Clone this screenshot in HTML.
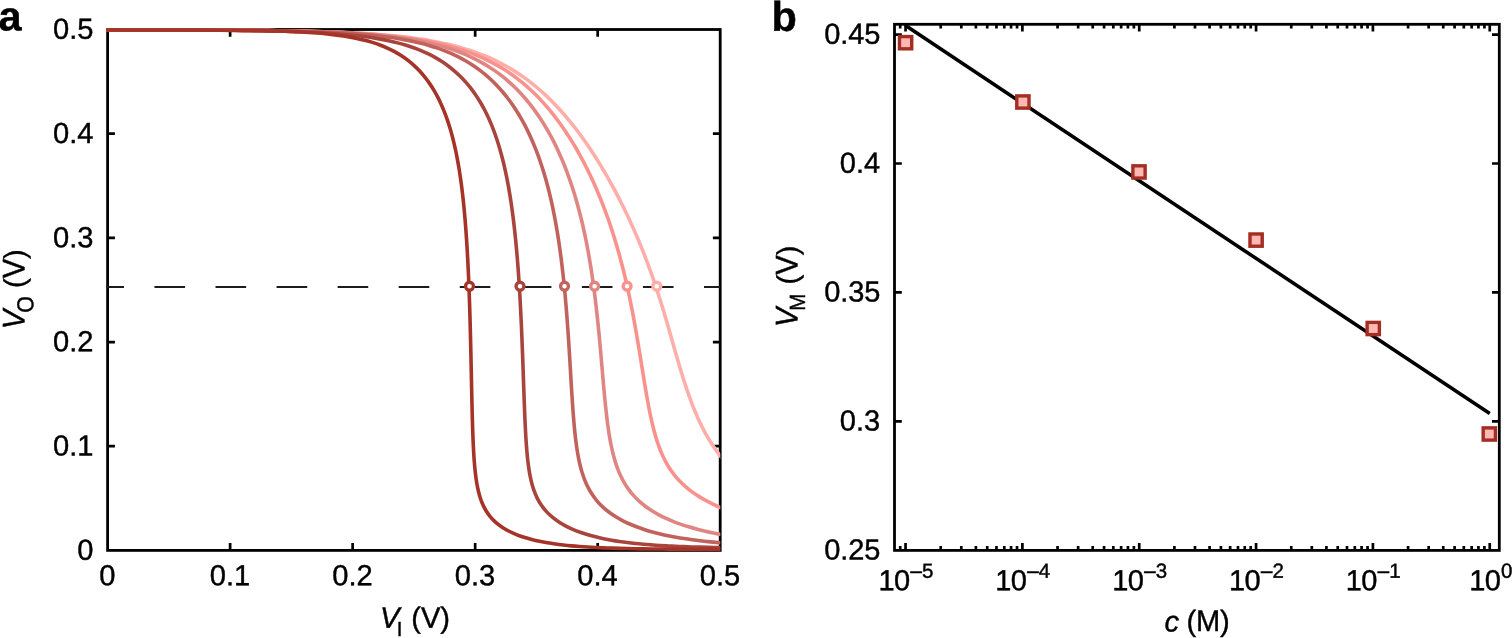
<!DOCTYPE html>
<html lang="en"><head><meta charset="utf-8"><title>Figure</title>
<style>html,body{margin:0;padding:0;background:#fff}svg{display:block}text{font-family:"Liberation Sans",sans-serif;fill:#000;stroke:#000;stroke-width:.42px}</style></head><body>
<svg width="1512" height="638" viewBox="0 0 1512 638">
<rect width="1512" height="638" fill="#fff"/>
<defs><clipPath id="ca"><rect x="106.20" y="27.30" width="614.10" height="525.10"/></clipPath></defs>
<g id="plot-a">
<rect x="107.60" y="29.50" width="612.60" height="520.90" fill="none" stroke="#000" stroke-width="2.80"/>
<path d="M230.12 550.40v-7.30M230.12 29.50v7.30M107.60 446.22h7.30M720.20 446.22h-7.30M352.64 550.40v-7.30M352.64 29.50v7.30M107.60 342.04h7.30M720.20 342.04h-7.30M475.16 550.40v-7.30M475.16 29.50v7.30M107.60 237.86h7.30M720.20 237.86h-7.30M597.68 550.40v-7.30M597.68 29.50v7.30M107.60 133.68h7.30M720.20 133.68h-7.30" stroke="#000" stroke-width="2.70" fill="none"/>
<line x1="93.4" y1="287.00" x2="720.20" y2="287.00" stroke="#1c1c1c" stroke-width="1.9" stroke-dasharray="30.6 30.46" clip-path="url(#ca)"/>
<g clip-path="url(#ca)" fill="none" stroke-width="3.6" stroke-linejoin="round">
<path d="M100.06 29.94 C102.75 29.94 105.44 29.95 108.13 29.95 C110.82 29.95 113.51 29.95 116.20 29.96 C118.88 29.96 121.57 29.96 124.26 29.96 C126.95 29.97 129.64 29.97 132.33 29.97 C135.02 29.98 137.71 29.98 140.39 29.98 C143.08 29.99 145.77 29.99 148.46 30.00 C151.15 30.00 153.84 30.01 156.53 30.01 C159.22 30.02 161.90 30.02 164.59 30.03 C167.28 30.03 169.97 30.04 172.66 30.04 C175.35 30.05 178.04 30.06 180.73 30.07 C183.41 30.07 186.10 30.08 188.79 30.09 C191.48 30.10 194.17 30.11 196.86 30.12 C199.55 30.13 202.24 30.14 204.92 30.15 C207.61 30.16 210.30 30.17 212.99 30.18 C215.68 30.20 218.37 30.21 221.06 30.23 C223.75 30.24 226.43 30.26 229.12 30.27 C231.81 30.29 234.50 30.31 237.19 30.33 C239.88 30.35 242.57 30.37 245.25 30.39 C247.94 30.41 250.63 30.44 253.32 30.46 C256.01 30.49 258.70 30.51 261.39 30.54 C264.08 30.57 266.76 30.60 269.45 30.64 C272.14 30.67 274.83 30.70 277.52 30.74 C280.21 30.78 282.89 30.82 285.58 30.86 C288.27 30.91 290.96 30.95 293.65 31.00 C296.34 31.05 299.02 31.11 301.71 31.16 C304.40 31.22 307.09 31.28 309.78 31.35 C312.46 31.41 315.15 31.48 317.84 31.56 C320.53 31.63 323.22 31.71 325.90 31.80 C328.59 31.88 331.28 31.97 333.96 32.07 C336.65 32.17 339.34 32.27 342.02 32.38 C344.71 32.50 347.40 32.62 350.08 32.74 C352.77 32.87 355.45 33.01 358.14 33.15 C360.82 33.30 363.51 33.45 366.19 33.62 C368.87 33.79 371.56 33.96 374.24 34.16 C376.92 34.35 379.60 34.55 382.28 34.77 C384.96 34.98 387.64 35.21 390.32 35.46 C393.00 35.71 395.67 35.97 398.35 36.25 C401.02 36.54 403.69 36.83 406.36 37.16 C409.03 37.48 411.70 37.82 414.36 38.18 C417.03 38.55 419.69 38.93 422.34 39.35 C425.00 39.76 427.65 40.20 430.30 40.66 C432.95 41.13 435.59 41.63 438.23 42.16 C440.86 42.69 443.50 43.24 446.12 43.84 C448.74 44.44 451.35 45.07 453.96 45.74 C456.56 46.41 459.16 47.11 461.74 47.86 C464.32 48.61 466.89 49.40 469.45 50.23 C472.00 51.06 474.55 51.94 477.07 52.86 C479.60 53.79 482.11 54.76 484.59 55.78 C487.08 56.80 489.55 57.86 492.00 58.98 C494.44 60.10 496.87 61.26 499.26 62.48 C501.66 63.69 504.03 64.96 506.38 66.28 C508.72 67.59 511.04 68.96 513.33 70.37 C515.62 71.78 517.88 73.24 520.10 74.75 C522.33 76.25 524.52 77.81 526.69 79.41 C528.85 81.00 530.98 82.64 533.08 84.33 C535.18 86.01 537.24 87.73 539.27 89.49 C541.31 91.25 543.30 93.05 545.27 94.88 C547.24 96.72 549.17 98.59 551.08 100.48 C552.98 102.38 554.85 104.32 556.69 106.27 C558.53 108.23 560.34 110.22 562.12 112.24 C563.91 114.25 565.66 116.29 567.38 118.35 C569.11 120.42 570.80 122.50 572.47 124.61 C574.14 126.72 575.79 128.84 577.41 130.99 C579.03 133.14 580.62 135.30 582.19 137.49 C583.76 139.67 585.31 141.87 586.83 144.08 C588.35 146.30 589.86 148.53 591.34 150.77 C592.82 153.02 594.28 155.28 595.72 157.55 C597.16 159.82 598.57 162.10 599.98 164.40 C601.38 166.69 602.76 169.00 604.12 171.32 C605.48 173.64 606.82 175.96 608.15 178.30 C609.48 180.64 610.78 182.99 612.07 185.35 C613.36 187.71 614.64 190.08 615.89 192.45 C617.15 194.83 618.39 197.22 619.61 199.61 C620.84 202.01 622.04 204.41 623.23 206.82 C624.42 209.23 625.59 211.65 626.75 214.08 C627.91 216.51 629.05 218.94 630.17 221.38 C631.30 223.83 632.41 226.28 633.50 228.73 C634.59 231.19 635.66 233.65 636.72 236.13 C637.78 238.60 638.82 241.08 639.85 243.56 C640.88 246.05 641.89 248.54 642.88 251.04 C643.88 253.53 644.85 256.04 645.82 258.55 C646.78 261.06 647.72 263.58 648.65 266.10 C649.58 268.62 650.50 271.15 651.40 273.69 C652.29 276.22 653.18 278.76 654.05 281.30 C654.92 283.85 655.77 286.40 656.61 288.95 C657.46 291.50 658.28 294.06 659.10 296.63 C659.91 299.19 660.72 301.75 661.51 304.32 C662.30 306.89 663.08 309.46 663.86 312.04 C664.63 314.62 665.39 317.19 666.15 319.77 C666.90 322.35 667.65 324.94 668.40 327.52 C669.14 330.10 669.88 332.69 670.62 335.27 C671.36 337.86 672.09 340.45 672.83 343.03 C673.56 345.62 674.30 348.21 675.04 350.79 C675.78 353.37 676.52 355.96 677.27 358.54 C678.02 361.12 678.77 363.70 679.54 366.28 C680.31 368.86 681.08 371.43 681.88 374.00 C682.67 376.57 683.47 379.14 684.29 381.70 C685.12 384.26 685.96 386.81 686.82 389.36 C687.68 391.90 688.57 394.44 689.48 396.97 C690.39 399.50 691.33 402.02 692.30 404.53 C693.27 407.04 694.27 409.53 695.31 412.01 C696.35 414.49 697.42 416.96 698.53 419.41 C699.65 421.85 700.80 424.28 702.01 426.69 C703.21 429.09 704.46 431.47 705.76 433.83 C707.06 436.18 708.40 438.51 709.81 440.80 C711.21 443.09 712.67 445.36 714.19 447.58 C715.70 449.79 717.27 451.98 718.91 454.11 C720.54 456.25 722.29 458.29 723.98 460.38 C723.98 460.38 723.98 460.38 723.98 460.38" stroke="#FFAEAA"/>
<path d="M100.03 29.94 C102.71 29.94 105.40 29.94 108.09 29.95 C110.77 29.95 113.46 29.95 116.14 29.95 C118.83 29.96 121.51 29.96 124.20 29.96 C126.89 29.97 129.57 29.97 132.26 29.97 C134.94 29.97 137.63 29.98 140.31 29.98 C143.00 29.99 145.69 29.99 148.37 29.99 C151.06 30.00 153.74 30.00 156.43 30.01 C159.11 30.01 161.80 30.02 164.49 30.02 C167.17 30.03 169.86 30.04 172.54 30.04 C175.23 30.05 177.91 30.06 180.60 30.06 C183.28 30.07 185.97 30.08 188.66 30.09 C191.34 30.10 194.03 30.11 196.71 30.12 C199.40 30.13 202.08 30.14 204.77 30.15 C207.46 30.16 210.14 30.17 212.83 30.19 C215.51 30.20 218.20 30.21 220.88 30.23 C223.57 30.24 226.26 30.26 228.94 30.28 C231.63 30.29 234.31 30.31 237.00 30.33 C239.68 30.35 242.37 30.37 245.05 30.40 C247.74 30.42 250.43 30.44 253.11 30.47 C255.80 30.50 258.48 30.52 261.17 30.55 C263.85 30.58 266.54 30.62 269.22 30.65 C271.91 30.69 274.60 30.72 277.28 30.76 C279.97 30.80 282.65 30.84 285.34 30.89 C288.02 30.94 290.71 30.98 293.39 31.04 C296.08 31.09 298.76 31.15 301.45 31.21 C304.13 31.27 306.82 31.33 309.50 31.40 C312.19 31.47 314.87 31.54 317.56 31.62 C320.24 31.70 322.93 31.78 325.61 31.88 C328.29 31.97 330.98 32.06 333.66 32.17 C336.34 32.27 339.03 32.38 341.71 32.50 C344.39 32.62 347.08 32.75 349.76 32.89 C352.44 33.02 355.12 33.17 357.80 33.33 C360.48 33.48 363.17 33.65 365.85 33.83 C368.52 34.01 371.20 34.20 373.88 34.41 C376.56 34.62 379.24 34.83 381.91 35.07 C384.59 35.31 387.26 35.56 389.93 35.83 C392.60 36.10 395.28 36.38 397.94 36.69 C400.61 37.00 403.28 37.32 405.94 37.68 C408.60 38.03 411.26 38.40 413.92 38.80 C416.57 39.20 419.23 39.62 421.87 40.08 C424.52 40.53 427.16 41.01 429.80 41.53 C432.43 42.05 435.06 42.59 437.68 43.18 C440.30 43.76 442.92 44.38 445.52 45.04 C448.13 45.70 450.72 46.39 453.30 47.13 C455.88 47.88 458.45 48.66 461.01 49.49 C463.56 50.32 466.10 51.19 468.62 52.11 C471.15 53.04 473.65 54.01 476.13 55.03 C478.62 56.06 481.08 57.13 483.52 58.26 C485.95 59.38 488.37 60.56 490.75 61.80 C493.14 63.03 495.50 64.31 497.83 65.65 C500.15 66.99 502.45 68.38 504.72 69.83 C506.98 71.27 509.21 72.77 511.41 74.31 C513.61 75.86 515.77 77.45 517.89 79.10 C520.02 80.74 522.10 82.43 524.15 84.17 C526.20 85.90 528.22 87.68 530.19 89.50 C532.17 91.32 534.10 93.18 536.00 95.08 C537.90 96.98 539.76 98.92 541.59 100.89 C543.41 102.85 545.20 104.86 546.95 106.90 C548.70 108.93 550.42 111.00 552.10 113.09 C553.78 115.19 555.43 117.31 557.04 119.46 C558.65 121.60 560.23 123.78 561.78 125.97 C563.33 128.17 564.84 130.39 566.33 132.63 C567.81 134.86 569.26 137.12 570.69 139.40 C572.11 141.68 573.50 143.97 574.87 146.29 C576.24 148.60 577.57 150.93 578.88 153.27 C580.19 155.62 581.47 157.98 582.73 160.35 C583.99 162.72 585.22 165.11 586.42 167.51 C587.63 169.91 588.81 172.32 589.96 174.75 C591.12 177.17 592.25 179.61 593.36 182.06 C594.47 184.50 595.55 186.96 596.61 189.43 C597.67 191.89 598.71 194.37 599.73 196.86 C600.74 199.34 601.74 201.84 602.71 204.34 C603.68 206.84 604.63 209.36 605.56 211.88 C606.49 214.40 607.40 216.92 608.29 219.46 C609.18 221.99 610.05 224.53 610.89 227.08 C611.74 229.63 612.57 232.18 613.38 234.75 C614.19 237.31 614.98 239.87 615.75 242.45 C616.52 245.02 617.28 247.60 618.01 250.18 C618.75 252.76 619.47 255.35 620.17 257.94 C620.87 260.54 621.55 263.13 622.22 265.73 C622.89 268.34 623.54 270.94 624.17 273.55 C624.81 276.16 625.43 278.77 626.03 281.39 C626.64 284.01 627.23 286.63 627.81 289.25 C628.38 291.87 628.95 294.50 629.50 297.13 C630.05 299.76 630.59 302.39 631.11 305.02 C631.64 307.65 632.15 310.29 632.66 312.93 C633.16 315.57 633.66 318.21 634.14 320.85 C634.63 323.49 635.10 326.13 635.57 328.78 C636.04 331.42 636.50 334.07 636.95 336.71 C637.41 339.36 637.85 342.01 638.29 344.66 C638.74 347.31 639.17 349.96 639.61 352.61 C640.04 355.26 640.47 357.91 640.90 360.56 C641.33 363.21 641.75 365.86 642.18 368.51 C642.61 371.17 643.03 373.82 643.47 376.47 C643.90 379.12 644.33 381.77 644.77 384.42 C645.21 387.07 645.66 389.72 646.12 392.36 C646.57 395.01 647.04 397.66 647.52 400.30 C648.00 402.94 648.49 405.58 649.00 408.22 C649.52 410.85 650.04 413.49 650.61 416.11 C651.17 418.74 651.74 421.36 652.37 423.97 C652.99 426.59 653.63 429.19 654.34 431.79 C655.04 434.38 655.78 436.96 656.58 439.52 C657.39 442.08 658.24 444.64 659.17 447.15 C660.11 449.67 661.10 452.17 662.20 454.62 C663.29 457.07 664.46 459.49 665.74 461.85 C667.02 464.21 668.39 466.53 669.86 468.77 C671.34 471.01 672.92 473.19 674.60 475.29 C676.28 477.38 678.07 479.40 679.93 481.32 C681.80 483.25 683.77 485.09 685.80 486.84 C687.82 488.60 689.94 490.26 692.11 491.85 C694.27 493.44 696.50 494.94 698.77 496.37 C701.04 497.81 703.37 499.16 705.72 500.45 C708.07 501.75 710.46 502.97 712.88 504.15 C715.29 505.32 717.75 506.41 720.20 507.50 C721.43 508.05 722.68 508.54 723.92 509.06" stroke="#F9918C"/>
<path d="M100.01 29.94 C102.69 29.94 105.37 29.94 108.06 29.94 C110.74 29.94 113.42 29.95 116.10 29.95 C118.79 29.95 121.47 29.95 124.15 29.96 C126.83 29.96 129.52 29.96 132.20 29.96 C134.88 29.97 137.56 29.97 140.24 29.97 C142.93 29.98 145.61 29.98 148.29 29.99 C150.97 29.99 153.66 29.99 156.34 30.00 C159.02 30.00 161.70 30.01 164.39 30.01 C167.07 30.02 169.75 30.03 172.43 30.03 C175.12 30.04 177.80 30.05 180.48 30.05 C183.16 30.06 185.85 30.07 188.53 30.08 C191.21 30.08 193.89 30.09 196.57 30.10 C199.26 30.11 201.94 30.12 204.62 30.14 C207.30 30.15 209.99 30.16 212.67 30.17 C215.35 30.19 218.03 30.20 220.72 30.21 C223.40 30.23 226.08 30.25 228.76 30.26 C231.45 30.28 234.13 30.30 236.81 30.32 C239.49 30.34 242.17 30.36 244.86 30.39 C247.54 30.41 250.22 30.43 252.90 30.46 C255.59 30.49 258.27 30.52 260.95 30.55 C263.63 30.58 266.32 30.61 269.00 30.65 C271.68 30.69 274.36 30.72 277.04 30.77 C279.73 30.81 282.41 30.85 285.09 30.90 C287.77 30.95 290.45 31.00 293.14 31.06 C295.82 31.11 298.50 31.17 301.18 31.23 C303.86 31.30 306.54 31.37 309.23 31.44 C311.91 31.52 314.59 31.59 317.27 31.68 C319.95 31.77 322.63 31.86 325.31 31.96 C327.99 32.06 330.67 32.16 333.35 32.28 C336.03 32.39 338.71 32.51 341.39 32.64 C344.07 32.78 346.75 32.92 349.43 33.07 C352.10 33.22 354.78 33.38 357.46 33.56 C360.14 33.73 362.81 33.92 365.49 34.12 C368.16 34.32 370.84 34.54 373.51 34.77 C376.18 35.00 378.85 35.25 381.52 35.52 C384.19 35.78 386.86 36.07 389.52 36.38 C392.19 36.68 394.85 37.01 397.51 37.36 C400.17 37.72 402.82 38.09 405.47 38.49 C408.13 38.90 410.77 39.33 413.42 39.79 C416.06 40.26 418.70 40.75 421.33 41.28 C423.95 41.80 426.58 42.36 429.19 42.97 C431.81 43.57 434.41 44.21 437.01 44.89 C439.60 45.57 442.18 46.30 444.75 47.07 C447.32 47.84 449.88 48.66 452.41 49.53 C454.95 50.40 457.47 51.32 459.97 52.29 C462.47 53.27 464.95 54.29 467.40 55.37 C469.86 56.46 472.29 57.60 474.69 58.79 C477.09 59.99 479.46 61.25 481.80 62.56 C484.13 63.88 486.44 65.25 488.71 66.68 C490.98 68.11 493.21 69.60 495.40 71.15 C497.59 72.69 499.75 74.29 501.86 75.95 C503.97 77.61 506.04 79.32 508.06 81.08 C510.08 82.84 512.06 84.65 513.99 86.51 C515.93 88.37 517.81 90.28 519.66 92.23 C521.50 94.17 523.30 96.17 525.05 98.20 C526.80 100.23 528.50 102.31 530.16 104.41 C531.83 106.51 533.44 108.66 535.02 110.83 C536.59 113.00 538.12 115.21 539.61 117.44 C541.09 119.67 542.54 121.93 543.94 124.22 C545.35 126.50 546.71 128.81 548.04 131.14 C549.37 133.47 550.65 135.83 551.90 138.20 C553.15 140.58 554.36 142.97 555.54 145.38 C556.72 147.79 557.86 150.22 558.97 152.66 C560.08 155.10 561.15 157.56 562.19 160.03 C563.23 162.50 564.24 164.99 565.22 167.49 C566.20 169.98 567.15 172.49 568.07 175.01 C568.99 177.53 569.88 180.06 570.75 182.60 C571.61 185.14 572.45 187.69 573.26 190.25 C574.07 192.80 574.85 195.37 575.61 197.94 C576.37 200.52 577.10 203.10 577.81 205.68 C578.53 208.27 579.21 210.86 579.88 213.46 C580.55 216.06 581.19 218.66 581.81 221.27 C582.44 223.88 583.04 226.49 583.62 229.11 C584.20 231.73 584.77 234.35 585.31 236.98 C585.86 239.61 586.38 242.24 586.89 244.87 C587.40 247.50 587.89 250.14 588.37 252.78 C588.85 255.42 589.30 258.06 589.75 260.71 C590.20 263.35 590.62 266.00 591.04 268.65 C591.46 271.30 591.86 273.95 592.25 276.61 C592.64 279.26 593.01 281.92 593.38 284.58 C593.74 287.23 594.10 289.89 594.44 292.55 C594.78 295.21 595.11 297.88 595.43 300.54 C595.75 303.20 596.06 305.87 596.37 308.53 C596.67 311.20 596.96 313.86 597.25 316.53 C597.53 319.20 597.81 321.86 598.08 324.53 C598.35 327.20 598.62 329.87 598.88 332.54 C599.14 335.21 599.39 337.88 599.64 340.55 C599.88 343.22 600.13 345.89 600.37 348.57 C600.61 351.24 600.84 353.91 601.08 356.58 C601.31 359.25 601.54 361.93 601.77 364.60 C602.00 367.27 602.23 369.94 602.46 372.62 C602.70 375.29 602.93 377.96 603.16 380.63 C603.40 383.31 603.63 385.98 603.88 388.65 C604.12 391.32 604.37 393.99 604.62 396.66 C604.88 399.33 605.14 402.00 605.41 404.67 C605.69 407.34 605.97 410.01 606.27 412.67 C606.58 415.34 606.89 418.00 607.23 420.66 C607.56 423.32 607.92 425.98 608.30 428.64 C608.69 431.29 609.09 433.94 609.54 436.59 C609.99 439.23 610.46 441.87 610.99 444.50 C611.52 447.13 612.09 449.76 612.72 452.36 C613.36 454.97 614.04 457.56 614.80 460.13 C615.57 462.70 616.40 465.26 617.33 467.77 C618.26 470.29 619.26 472.78 620.39 475.21 C621.51 477.65 622.73 480.05 624.07 482.37 C625.41 484.68 626.86 486.95 628.43 489.13 C629.99 491.30 631.68 493.40 633.47 495.40 C635.25 497.39 637.15 499.30 639.13 501.11 C641.11 502.92 643.19 504.62 645.33 506.24 C647.46 507.85 649.69 509.37 651.95 510.80 C654.22 512.23 656.55 513.57 658.91 514.84 C661.27 516.10 663.69 517.28 666.12 518.41 C668.56 519.53 671.03 520.57 673.52 521.56 C676.02 522.55 678.54 523.48 681.07 524.36 C683.60 525.24 686.16 526.06 688.72 526.84 C691.29 527.62 693.87 528.35 696.46 529.04 C699.05 529.74 701.66 530.39 704.27 531.01 C706.88 531.63 709.50 532.21 712.12 532.76 C714.75 533.31 717.38 533.81 720.02 534.32 C721.33 534.57 722.66 534.80 723.97 535.04" stroke="#E08682"/>
<path d="M100.01 29.93 C102.69 29.93 105.37 29.93 108.06 29.93 C110.74 29.93 113.42 29.94 116.11 29.94 C118.79 29.94 121.47 29.94 124.16 29.94 C126.84 29.95 129.52 29.95 132.21 29.95 C134.89 29.96 137.57 29.96 140.25 29.96 C142.94 29.96 145.62 29.97 148.30 29.97 C150.99 29.98 153.67 29.98 156.35 29.98 C159.04 29.99 161.72 29.99 164.40 30.00 C167.09 30.00 169.77 30.01 172.45 30.01 C175.14 30.02 177.82 30.03 180.50 30.03 C183.19 30.04 185.87 30.05 188.55 30.06 C191.24 30.06 193.92 30.07 196.60 30.08 C199.29 30.09 201.97 30.10 204.65 30.11 C207.34 30.12 210.02 30.13 212.70 30.15 C215.39 30.16 218.07 30.17 220.75 30.19 C223.43 30.20 226.12 30.22 228.80 30.24 C231.48 30.25 234.17 30.27 236.85 30.29 C239.53 30.31 242.22 30.34 244.90 30.36 C247.58 30.38 250.27 30.41 252.95 30.44 C255.63 30.46 258.32 30.49 261.00 30.53 C263.68 30.56 266.36 30.59 269.05 30.63 C271.73 30.67 274.41 30.71 277.10 30.75 C279.78 30.80 282.46 30.85 285.14 30.90 C287.83 30.95 290.51 31.00 293.19 31.06 C295.88 31.12 298.56 31.19 301.24 31.26 C303.92 31.33 306.60 31.40 309.29 31.49 C311.97 31.57 314.65 31.65 317.33 31.75 C320.01 31.85 322.69 31.95 325.38 32.06 C328.06 32.17 330.74 32.29 333.42 32.42 C336.10 32.55 338.78 32.69 341.46 32.84 C344.13 32.99 346.81 33.15 349.49 33.33 C352.17 33.50 354.84 33.69 357.52 33.90 C360.20 34.10 362.87 34.32 365.54 34.56 C368.22 34.80 370.89 35.05 373.56 35.33 C376.22 35.61 378.89 35.90 381.55 36.23 C384.22 36.55 386.88 36.89 389.54 37.27 C392.19 37.64 394.85 38.04 397.50 38.47 C400.14 38.90 402.79 39.36 405.42 39.86 C408.06 40.36 410.69 40.90 413.31 41.47 C415.93 42.05 418.55 42.66 421.15 43.32 C423.75 43.98 426.34 44.68 428.91 45.44 C431.48 46.20 434.05 47.00 436.59 47.86 C439.13 48.72 441.65 49.63 444.15 50.61 C446.65 51.58 449.13 52.61 451.58 53.71 C454.03 54.80 456.46 55.96 458.84 57.18 C461.23 58.40 463.59 59.68 465.91 61.04 C468.22 62.39 470.51 63.80 472.74 65.28 C474.98 66.76 477.18 68.31 479.33 69.92 C481.47 71.52 483.58 73.19 485.63 74.92 C487.68 76.65 489.68 78.44 491.63 80.29 C493.58 82.13 495.48 84.03 497.32 85.98 C499.16 87.92 500.96 89.93 502.69 91.97 C504.43 94.01 506.12 96.10 507.75 98.23 C509.38 100.36 510.96 102.53 512.49 104.74 C514.02 106.94 515.50 109.18 516.93 111.45 C518.36 113.72 519.74 116.02 521.07 118.35 C522.41 120.68 523.70 123.03 524.94 125.41 C526.18 127.79 527.38 130.19 528.54 132.61 C529.70 135.03 530.81 137.47 531.89 139.93 C532.96 142.39 534.00 144.87 535.00 147.35 C536.00 149.84 536.96 152.35 537.89 154.87 C538.82 157.38 539.71 159.92 540.57 162.46 C541.43 165.00 542.26 167.55 543.06 170.11 C543.86 172.67 544.62 175.25 545.36 177.82 C546.11 180.40 546.82 182.99 547.50 185.58 C548.19 188.18 548.85 190.78 549.49 193.39 C550.12 195.99 550.73 198.61 551.32 201.22 C551.91 203.84 552.48 206.46 553.03 209.09 C553.57 211.72 554.10 214.35 554.60 216.98 C555.11 219.62 555.59 222.26 556.06 224.90 C556.53 227.54 556.98 230.19 557.42 232.84 C557.85 235.48 558.27 238.13 558.67 240.79 C559.07 243.44 559.46 246.09 559.83 248.75 C560.21 251.41 560.57 254.07 560.91 256.73 C561.26 259.39 561.59 262.05 561.91 264.72 C562.23 267.38 562.54 270.05 562.84 272.71 C563.14 275.38 563.43 278.05 563.71 280.72 C563.98 283.38 564.25 286.05 564.51 288.72 C564.77 291.40 565.02 294.07 565.26 296.74 C565.50 299.41 565.73 302.08 565.96 304.76 C566.19 307.43 566.40 310.11 566.62 312.78 C566.83 315.46 567.03 318.13 567.23 320.81 C567.43 323.48 567.62 326.16 567.81 328.84 C568.00 331.51 568.18 334.19 568.36 336.87 C568.54 339.54 568.72 342.22 568.89 344.90 C569.06 347.58 569.23 350.26 569.39 352.93 C569.56 355.61 569.72 358.29 569.88 360.97 C570.04 363.65 570.20 366.33 570.36 369.00 C570.52 371.68 570.68 374.36 570.83 377.04 C570.99 379.72 571.15 382.40 571.31 385.07 C571.48 387.75 571.64 390.43 571.81 393.11 C571.98 395.79 572.15 398.47 572.33 401.14 C572.50 403.82 572.69 406.50 572.88 409.17 C573.07 411.85 573.27 414.53 573.49 417.20 C573.70 419.87 573.93 422.55 574.17 425.22 C574.42 427.89 574.67 430.56 574.96 433.23 C575.24 435.90 575.54 438.57 575.88 441.23 C576.22 443.89 576.58 446.55 577.00 449.20 C577.41 451.85 577.85 454.50 578.36 457.13 C578.87 459.77 579.41 462.40 580.05 465.00 C580.69 467.61 581.37 470.21 582.17 472.77 C582.97 475.32 583.84 477.87 584.84 480.36 C585.84 482.84 586.94 485.31 588.17 487.68 C589.41 490.06 590.77 492.39 592.25 494.62 C593.74 496.84 595.37 499.00 597.10 501.04 C598.84 503.08 600.71 505.02 602.66 506.85 C604.62 508.68 606.69 510.40 608.83 512.02 C610.96 513.64 613.19 515.15 615.47 516.57 C617.74 517.99 620.09 519.31 622.46 520.55 C624.84 521.79 627.27 522.93 629.73 524.01 C632.18 525.09 634.67 526.09 637.19 527.03 C639.70 527.98 642.24 528.85 644.79 529.67 C647.34 530.49 649.92 531.25 652.51 531.97 C655.09 532.68 657.69 533.34 660.30 533.97 C662.91 534.59 665.53 535.17 668.16 535.71 C670.79 536.26 673.42 536.76 676.06 537.24 C678.70 537.71 681.35 538.15 684.00 538.56 C686.65 538.98 689.31 539.36 691.97 539.72 C694.63 540.08 697.29 540.41 699.96 540.73 C702.62 541.04 705.29 541.33 707.96 541.60 C710.63 541.88 713.30 542.13 715.97 542.37 C718.64 542.60 721.32 542.81 723.99 543.03 C723.99 543.03 723.99 543.03 723.99 543.03" stroke="#C1625C"/>
<path d="M100.06 29.93 C102.75 29.94 105.44 29.94 108.12 29.94 C110.81 29.94 113.50 29.94 116.18 29.95 C118.87 29.95 121.56 29.95 124.25 29.96 C126.93 29.96 129.62 29.96 132.31 29.96 C135.00 29.97 137.68 29.97 140.37 29.98 C143.06 29.98 145.75 29.98 148.43 29.99 C151.12 29.99 153.81 30.00 156.50 30.01 C159.18 30.01 161.87 30.02 164.56 30.02 C167.25 30.03 169.93 30.04 172.62 30.05 C175.31 30.05 177.99 30.06 180.68 30.07 C183.37 30.08 186.06 30.09 188.74 30.10 C191.43 30.11 194.12 30.12 196.81 30.14 C199.49 30.15 202.18 30.16 204.87 30.18 C207.56 30.19 210.24 30.21 212.93 30.23 C215.62 30.24 218.31 30.26 220.99 30.28 C223.68 30.30 226.37 30.33 229.05 30.35 C231.74 30.37 234.43 30.40 237.12 30.43 C239.80 30.46 242.49 30.49 245.18 30.52 C247.87 30.55 250.55 30.59 253.24 30.63 C255.93 30.67 258.61 30.71 261.30 30.76 C263.99 30.80 266.67 30.85 269.36 30.91 C272.05 30.96 274.74 31.02 277.42 31.08 C280.11 31.15 282.79 31.21 285.48 31.29 C288.17 31.36 290.85 31.44 293.54 31.53 C296.23 31.62 298.91 31.71 301.60 31.82 C304.28 31.92 306.97 32.03 309.65 32.15 C312.34 32.27 315.02 32.40 317.70 32.54 C320.39 32.69 323.07 32.84 325.75 33.00 C328.44 33.17 331.12 33.35 333.80 33.55 C336.48 33.74 339.16 33.95 341.83 34.18 C344.51 34.41 347.19 34.65 349.86 34.92 C352.54 35.19 355.21 35.48 357.88 35.79 C360.55 36.11 363.21 36.44 365.88 36.81 C368.54 37.18 371.20 37.57 373.85 38.00 C376.50 38.43 379.15 38.89 381.79 39.39 C384.43 39.89 387.07 40.42 389.69 41.00 C392.31 41.59 394.93 42.21 397.53 42.88 C400.13 43.56 402.72 44.28 405.29 45.06 C407.86 45.84 410.42 46.67 412.95 47.57 C415.48 48.46 418.00 49.42 420.48 50.44 C422.96 51.47 425.43 52.56 427.84 53.73 C430.26 54.89 432.66 56.13 435.00 57.44 C437.34 58.75 439.65 60.14 441.90 61.60 C444.16 63.06 446.37 64.60 448.51 66.21 C450.66 67.82 452.76 69.51 454.79 71.27 C456.82 73.03 458.79 74.86 460.69 76.76 C462.60 78.65 464.44 80.62 466.21 82.64 C467.98 84.66 469.68 86.75 471.31 88.88 C472.95 91.01 474.52 93.19 476.02 95.42 C477.52 97.65 478.96 99.92 480.33 102.23 C481.70 104.54 483.01 106.89 484.26 109.27 C485.52 111.64 486.71 114.06 487.85 116.49 C488.98 118.92 490.06 121.39 491.10 123.87 C492.13 126.35 493.11 128.85 494.05 131.37 C494.99 133.89 495.87 136.43 496.72 138.97 C497.58 141.52 498.38 144.09 499.15 146.66 C499.92 149.24 500.65 151.82 501.35 154.42 C502.06 157.01 502.72 159.62 503.36 162.23 C503.99 164.84 504.59 167.46 505.17 170.08 C505.75 172.71 506.30 175.34 506.83 177.97 C507.35 180.61 507.85 183.25 508.33 185.89 C508.81 188.54 509.27 191.19 509.71 193.84 C510.15 196.49 510.56 199.14 510.96 201.80 C511.36 204.46 511.74 207.12 512.11 209.78 C512.48 212.44 512.82 215.11 513.16 217.77 C513.50 220.44 513.82 223.11 514.12 225.78 C514.43 228.45 514.72 231.12 515.01 233.79 C515.29 236.46 515.56 239.14 515.82 241.81 C516.08 244.49 516.33 247.16 516.57 249.84 C516.81 252.52 517.04 255.19 517.26 257.87 C517.48 260.55 517.69 263.23 517.90 265.91 C518.10 268.59 518.30 271.27 518.48 273.95 C518.67 276.63 518.85 279.31 519.03 281.99 C519.20 284.68 519.37 287.36 519.54 290.04 C519.70 292.72 519.85 295.41 520.01 298.09 C520.16 300.77 520.30 303.46 520.44 306.14 C520.58 308.82 520.72 311.51 520.85 314.19 C520.98 316.88 521.11 319.56 521.23 322.24 C521.36 324.93 521.48 327.61 521.59 330.30 C521.71 332.98 521.82 335.67 521.93 338.35 C522.04 341.04 522.15 343.72 522.25 346.41 C522.36 349.09 522.46 351.78 522.56 354.47 C522.66 357.15 522.76 359.84 522.86 362.52 C522.95 365.21 523.05 367.89 523.14 370.58 C523.24 373.27 523.33 375.95 523.42 378.64 C523.52 381.32 523.61 384.01 523.70 386.69 C523.80 389.38 523.89 392.07 523.99 394.75 C524.08 397.44 524.18 400.12 524.28 402.81 C524.38 405.49 524.48 408.18 524.59 410.86 C524.70 413.55 524.81 416.23 524.93 418.92 C525.04 421.60 525.17 424.29 525.30 426.97 C525.43 429.66 525.57 432.34 525.73 435.02 C525.89 437.71 526.05 440.39 526.24 443.07 C526.43 445.75 526.63 448.43 526.86 451.11 C527.09 453.79 527.34 456.46 527.64 459.13 C527.93 461.80 528.25 464.47 528.64 467.13 C529.02 469.79 529.44 472.45 529.95 475.09 C530.46 477.72 531.02 480.36 531.70 482.95 C532.39 485.55 533.14 488.14 534.06 490.66 C534.97 493.18 535.99 495.69 537.19 498.08 C538.39 500.48 539.74 502.83 541.25 505.05 C542.76 507.26 544.44 509.38 546.24 511.36 C548.05 513.34 550.02 515.20 552.07 516.93 C554.12 518.65 556.31 520.24 558.55 521.72 C560.79 523.20 563.13 524.55 565.49 525.81 C567.86 527.07 570.31 528.21 572.77 529.28 C575.23 530.35 577.74 531.32 580.27 532.23 C582.80 533.13 585.36 533.96 587.93 534.73 C590.51 535.50 593.11 536.20 595.71 536.85 C598.32 537.50 600.94 538.09 603.57 538.65 C606.20 539.20 608.84 539.70 611.49 540.17 C614.13 540.64 616.79 541.06 619.45 541.46 C622.10 541.86 624.77 542.22 627.43 542.55 C630.10 542.89 632.77 543.19 635.44 543.47 C638.11 543.76 640.79 544.01 643.47 544.25 C646.14 544.49 648.82 544.71 651.50 544.91 C654.18 545.11 656.86 545.29 659.55 545.46 C662.23 545.63 664.91 545.78 667.59 545.93 C670.28 546.07 672.96 546.20 675.65 546.32 C678.33 546.44 681.02 546.55 683.70 546.65 C686.39 546.75 689.07 546.84 691.76 546.93 C694.45 547.01 697.13 547.09 699.82 547.16 C702.50 547.24 705.19 547.30 707.88 547.36 C710.56 547.42 713.25 547.48 715.94 547.53 C718.63 547.58 721.31 547.62 724.00 547.67 C724.00 547.67 724.00 547.67 724.00 547.67" stroke="#A8443C"/>
<path d="M100.05 29.91 C102.73 29.91 105.41 29.92 108.08 29.92 C110.76 29.92 113.44 29.92 116.12 29.92 C118.80 29.92 121.48 29.92 124.16 29.93 C126.84 29.93 129.52 29.93 132.20 29.93 C134.87 29.93 137.55 29.93 140.23 29.94 C142.91 29.94 145.59 29.94 148.27 29.95 C150.95 29.95 153.63 29.95 156.31 29.96 C158.99 29.96 161.66 29.96 164.34 29.97 C167.02 29.97 169.70 29.98 172.38 29.98 C175.06 29.99 177.74 30.00 180.42 30.00 C183.10 30.01 185.78 30.02 188.45 30.03 C191.13 30.03 193.81 30.04 196.49 30.05 C199.17 30.06 201.85 30.08 204.53 30.09 C207.21 30.10 209.89 30.11 212.57 30.13 C215.24 30.15 217.92 30.16 220.60 30.18 C223.28 30.20 225.96 30.22 228.64 30.24 C231.32 30.27 234.00 30.29 236.68 30.32 C239.36 30.35 242.03 30.38 244.71 30.41 C247.39 30.45 250.07 30.49 252.75 30.53 C255.43 30.57 258.11 30.62 260.78 30.67 C263.46 30.72 266.14 30.78 268.82 30.84 C271.50 30.91 274.18 30.97 276.85 31.05 C279.53 31.13 282.21 31.21 284.89 31.31 C287.56 31.40 290.24 31.51 292.92 31.62 C295.59 31.74 298.27 31.86 300.95 32.01 C303.62 32.15 306.30 32.30 308.97 32.47 C311.64 32.65 314.32 32.83 316.99 33.05 C319.66 33.26 322.33 33.48 324.99 33.74 C327.66 34.00 330.32 34.28 332.98 34.59 C335.65 34.90 338.30 35.24 340.95 35.62 C343.61 36.00 346.26 36.41 348.89 36.87 C351.53 37.33 354.17 37.83 356.79 38.39 C359.41 38.94 362.02 39.54 364.61 40.21 C367.21 40.88 369.79 41.60 372.35 42.40 C374.90 43.20 377.44 44.06 379.95 45.01 C382.45 45.95 384.94 46.97 387.37 48.08 C389.81 49.19 392.22 50.38 394.57 51.66 C396.91 52.94 399.22 54.31 401.47 55.77 C403.71 57.24 405.90 58.79 408.01 60.43 C410.13 62.07 412.18 63.81 414.15 65.62 C416.13 67.42 418.03 69.32 419.85 71.28 C421.67 73.25 423.41 75.29 425.07 77.39 C426.74 79.48 428.32 81.65 429.83 83.86 C431.34 86.07 432.77 88.35 434.13 90.65 C435.49 92.96 436.78 95.31 438.00 97.69 C439.22 100.08 440.37 102.50 441.46 104.94 C442.56 107.39 443.59 109.87 444.56 112.36 C445.54 114.85 446.46 117.37 447.33 119.90 C448.20 122.44 449.02 124.99 449.80 127.55 C450.58 130.12 451.31 132.69 452.00 135.28 C452.70 137.87 453.35 140.47 453.97 143.07 C454.59 145.68 455.18 148.29 455.73 150.92 C456.29 153.54 456.81 156.16 457.30 158.80 C457.80 161.43 458.27 164.07 458.71 166.71 C459.16 169.35 459.58 172.00 459.98 174.65 C460.38 177.29 460.75 179.95 461.11 182.60 C461.47 185.26 461.81 187.91 462.13 190.57 C462.46 193.23 462.76 195.90 463.05 198.56 C463.35 201.22 463.62 203.89 463.89 206.55 C464.15 209.22 464.40 211.89 464.64 214.55 C464.87 217.22 465.10 219.89 465.32 222.56 C465.53 225.23 465.74 227.90 465.93 230.58 C466.13 233.25 466.31 235.92 466.49 238.59 C466.67 241.27 466.84 243.94 467.00 246.61 C467.16 249.29 467.32 251.96 467.46 254.64 C467.61 257.31 467.75 259.99 467.89 262.66 C468.02 265.34 468.15 268.02 468.27 270.69 C468.40 273.37 468.52 276.04 468.63 278.72 C468.74 281.40 468.85 284.07 468.95 286.75 C469.06 289.43 469.16 292.11 469.25 294.78 C469.35 297.46 469.44 300.14 469.53 302.81 C469.62 305.49 469.70 308.17 469.79 310.85 C469.87 313.53 469.95 316.20 470.02 318.88 C470.10 321.56 470.17 324.24 470.24 326.92 C470.31 329.59 470.38 332.27 470.45 334.95 C470.52 337.63 470.58 340.31 470.65 342.98 C470.71 345.66 470.77 348.34 470.83 351.02 C470.89 353.70 470.95 356.38 471.01 359.05 C471.07 361.73 471.12 364.41 471.18 367.09 C471.24 369.77 471.29 372.45 471.35 375.12 C471.41 377.80 471.46 380.48 471.52 383.16 C471.57 385.84 471.63 388.52 471.69 391.20 C471.75 393.87 471.80 396.55 471.86 399.23 C471.93 401.91 471.99 404.59 472.05 407.27 C472.12 409.94 472.18 412.62 472.25 415.30 C472.33 417.98 472.40 420.66 472.48 423.33 C472.56 426.01 472.64 428.69 472.74 431.37 C472.83 434.04 472.93 436.72 473.04 439.40 C473.15 442.07 473.27 444.75 473.41 447.43 C473.55 450.10 473.69 452.78 473.86 455.45 C474.04 458.12 474.22 460.80 474.44 463.47 C474.66 466.14 474.90 468.81 475.20 471.47 C475.49 474.13 475.80 476.79 476.20 479.44 C476.60 482.09 477.03 484.74 477.57 487.36 C478.11 489.98 478.70 492.60 479.45 495.17 C480.20 497.74 481.04 500.30 482.06 502.77 C483.08 505.24 484.24 507.68 485.60 509.98 C486.95 512.28 488.49 514.51 490.19 516.57 C491.88 518.62 493.78 520.56 495.77 522.33 C497.77 524.10 499.94 525.72 502.16 527.21 C504.38 528.69 506.72 530.02 509.10 531.25 C511.48 532.47 513.94 533.56 516.42 534.57 C518.90 535.57 521.43 536.46 523.98 537.29 C526.52 538.11 529.11 538.84 531.70 539.52 C534.29 540.19 536.90 540.79 539.52 541.34 C542.14 541.89 544.78 542.38 547.42 542.83 C550.06 543.28 552.71 543.68 555.36 544.05 C558.02 544.42 560.68 544.74 563.34 545.04 C566.00 545.34 568.67 545.61 571.34 545.85 C574.00 546.10 576.67 546.32 579.35 546.52 C582.02 546.72 584.69 546.89 587.36 547.05 C590.04 547.22 592.71 547.36 595.39 547.49 C598.06 547.63 600.74 547.74 603.42 547.85 C606.10 547.96 608.77 548.05 611.45 548.14 C614.13 548.23 616.81 548.30 619.48 548.38 C622.16 548.45 624.84 548.51 627.52 548.57 C630.20 548.63 632.88 548.68 635.55 548.72 C638.23 548.77 640.91 548.81 643.59 548.85 C646.27 548.89 648.95 548.92 651.63 548.95 C654.31 548.98 656.98 549.01 659.66 549.04 C662.34 549.06 665.02 549.08 667.70 549.11 C670.38 549.13 673.06 549.14 675.74 549.16 C678.42 549.18 681.09 549.19 683.77 549.21 C686.45 549.22 689.13 549.23 691.81 549.24 C694.49 549.25 697.17 549.26 699.85 549.27 C702.53 549.28 705.21 549.29 707.88 549.30 C710.56 549.30 713.24 549.31 715.92 549.32 C718.60 549.32 721.28 549.33 723.96 549.33 C723.96 549.33 723.96 549.33 723.96 549.33" stroke="#A63327"/>
</g>
<circle cx="656.80" cy="286.2" r="3.95" fill="#fff" stroke="#FFAEAA" stroke-width="3.35"/>
<circle cx="627.10" cy="286.2" r="3.95" fill="#fff" stroke="#F9918C" stroke-width="3.35"/>
<circle cx="594.60" cy="286.2" r="3.95" fill="#fff" stroke="#E08682" stroke-width="3.35"/>
<circle cx="564.50" cy="286.2" r="3.95" fill="#fff" stroke="#C1625C" stroke-width="3.35"/>
<circle cx="520.00" cy="286.2" r="3.95" fill="#fff" stroke="#A8443C" stroke-width="3.35"/>
<circle cx="469.50" cy="286.2" r="3.95" fill="#fff" stroke="#A63327" stroke-width="3.35"/>
<text transform="translate(93.50 559.70) scale(1.000 1) rotate(0.03)" font-size="29.1" text-anchor="end">0</text>
<text transform="translate(107.40 585.25) scale(1.000 1) rotate(0.03)" font-size="29.1" text-anchor="middle">0</text>
<text transform="translate(93.50 455.52) scale(1.000 1) rotate(0.03)" font-size="29.1" text-anchor="end">0.1</text>
<text transform="translate(229.92 585.25) scale(1.000 1) rotate(0.03)" font-size="29.1" text-anchor="middle">0.1</text>
<text transform="translate(93.50 351.34) scale(1.000 1) rotate(0.03)" font-size="29.1" text-anchor="end">0.2</text>
<text transform="translate(352.44 585.25) scale(1.000 1) rotate(0.03)" font-size="29.1" text-anchor="middle">0.2</text>
<text transform="translate(93.50 247.16) scale(1.000 1) rotate(0.03)" font-size="29.1" text-anchor="end">0.3</text>
<text transform="translate(474.96 585.25) scale(1.000 1) rotate(0.03)" font-size="29.1" text-anchor="middle">0.3</text>
<text transform="translate(93.50 142.98) scale(1.000 1) rotate(0.03)" font-size="29.1" text-anchor="end">0.4</text>
<text transform="translate(597.48 585.25) scale(1.000 1) rotate(0.03)" font-size="29.1" text-anchor="middle">0.4</text>
<text transform="translate(93.50 38.80) scale(1.000 1) rotate(0.03)" font-size="29.1" text-anchor="end">0.5</text>
<text transform="translate(720.00 585.25) scale(1.000 1) rotate(0.03)" font-size="29.1" text-anchor="middle">0.5</text>
<text transform="translate(379.90 627.70) scale(0.990 1) rotate(0.03)" font-size="29.4" font-style="italic">V</text>
<text transform="translate(396.80 636.00) scale(1.000 1) rotate(0.03)" font-size="20.3">I</text>
<text transform="translate(411.20 627.70) scale(0.990 1) rotate(0.03)" font-size="29.4">(V)</text>
<g transform="translate(24.4 329.3) rotate(-90)">
<text transform="translate(0.00 0.00) scale(0.930 1) rotate(0.03)" font-size="31.4" font-style="italic">V</text>
<text transform="translate(16.60 8.80) scale(0.930 1) rotate(0.03)" font-size="23.0">O</text>
<text transform="translate(41.30 0.00) scale(0.990 1) rotate(0.03)" font-size="29.4">(</text>
<text transform="translate(51.00 0.00) scale(0.930 1) rotate(0.03)" font-size="31.4">V</text>
<text transform="translate(70.40 0.00) scale(0.990 1) rotate(0.03)" font-size="29.4">)</text>
</g>
<text transform="translate(-1.4 30.6) rotate(0.03)" font-size="41.5" font-weight="bold" stroke="none">a</text>
</g>
<g id="plot-b">
<rect x="894.50" y="24.30" width="604.80" height="526.10" fill="none" stroke="#000" stroke-width="2.80"/>
<path d="M894.50 34.53h7.30M1499.30 34.53h-7.30M894.50 163.50h7.30M1499.30 163.50h-7.30M894.50 292.47h7.30M1499.30 292.47h-7.30M894.50 421.44h7.30M1499.30 421.44h-7.30M900.20 550.40v-4.30M900.20 24.30v4.30M905.55 550.40v-7.30M905.55 24.30v7.30M940.72 550.40v-4.30M940.72 24.30v4.30M961.30 550.40v-4.30M961.30 24.30v4.30M975.89 550.40v-4.30M975.89 24.30v4.30M987.22 550.40v-4.30M987.22 24.30v4.30M996.47 550.40v-4.30M996.47 24.30v4.30M1004.29 550.40v-4.30M1004.29 24.30v4.30M1011.07 550.40v-4.30M1011.07 24.30v4.30M1017.04 550.40v-4.30M1017.04 24.30v4.30M1022.39 550.40v-7.30M1022.39 24.30v7.30M1057.56 550.40v-4.30M1057.56 24.30v4.30M1078.14 550.40v-4.30M1078.14 24.30v4.30M1092.73 550.40v-4.30M1092.73 24.30v4.30M1104.06 550.40v-4.30M1104.06 24.30v4.30M1113.31 550.40v-4.30M1113.31 24.30v4.30M1121.13 550.40v-4.30M1121.13 24.30v4.30M1127.91 550.40v-4.30M1127.91 24.30v4.30M1133.88 550.40v-4.30M1133.88 24.30v4.30M1139.23 550.40v-7.30M1139.23 24.30v7.30M1174.40 550.40v-4.30M1174.40 24.30v4.30M1194.98 550.40v-4.30M1194.98 24.30v4.30M1209.57 550.40v-4.30M1209.57 24.30v4.30M1220.90 550.40v-4.30M1220.90 24.30v4.30M1230.15 550.40v-4.30M1230.15 24.30v4.30M1237.97 550.40v-4.30M1237.97 24.30v4.30M1244.75 550.40v-4.30M1244.75 24.30v4.30M1250.72 550.40v-4.30M1250.72 24.30v4.30M1256.07 550.40v-7.30M1256.07 24.30v7.30M1291.24 550.40v-4.30M1291.24 24.30v4.30M1311.82 550.40v-4.30M1311.82 24.30v4.30M1326.41 550.40v-4.30M1326.41 24.30v4.30M1337.74 550.40v-4.30M1337.74 24.30v4.30M1346.99 550.40v-4.30M1346.99 24.30v4.30M1354.81 550.40v-4.30M1354.81 24.30v4.30M1361.59 550.40v-4.30M1361.59 24.30v4.30M1367.56 550.40v-4.30M1367.56 24.30v4.30M1372.91 550.40v-7.30M1372.91 24.30v7.30M1408.08 550.40v-4.30M1408.08 24.30v4.30M1428.66 550.40v-4.30M1428.66 24.30v4.30M1443.25 550.40v-4.30M1443.25 24.30v4.30M1454.58 550.40v-4.30M1454.58 24.30v4.30M1463.83 550.40v-4.30M1463.83 24.30v4.30M1471.65 550.40v-4.30M1471.65 24.30v4.30M1478.43 550.40v-4.30M1478.43 24.30v4.30M1484.40 550.40v-4.30M1484.40 24.30v4.30M1489.75 550.40v-7.30M1489.75 24.30v7.30" stroke="#000" stroke-width="2.70" fill="none"/>
<line x1="905.55" y1="25.60" x2="1489.75" y2="413.60" stroke="#000" stroke-width="3.55"/>
<rect x="899.48" y="36.58" width="12.25" height="12.25" fill="#FFB7B4" stroke="#A32E22" stroke-width="3.4"/>
<rect x="1016.77" y="95.88" width="12.25" height="12.25" fill="#FFB7B4" stroke="#A32E22" stroke-width="3.4"/>
<rect x="1132.88" y="165.82" width="12.25" height="12.25" fill="#FFB7B4" stroke="#A32E22" stroke-width="3.4"/>
<rect x="1249.97" y="233.97" width="12.25" height="12.25" fill="#FFB7B4" stroke="#A32E22" stroke-width="3.4"/>
<rect x="1367.12" y="322.38" width="12.25" height="12.25" fill="#FFB7B4" stroke="#A32E22" stroke-width="3.4"/>
<rect x="1483.17" y="427.88" width="12.25" height="12.25" fill="#FFB7B4" stroke="#A32E22" stroke-width="3.4"/>
<text transform="translate(880.20 43.68) scale(1.000 1) rotate(0.03)" font-size="29.0" text-anchor="end" letter-spacing="-0.15">0.45</text>
<text transform="translate(880.20 172.65) scale(1.000 1) rotate(0.03)" font-size="29.0" text-anchor="end">0.4</text>
<text transform="translate(880.20 301.62) scale(1.000 1) rotate(0.03)" font-size="29.0" text-anchor="end" letter-spacing="-0.15">0.35</text>
<text transform="translate(880.20 430.59) scale(1.000 1) rotate(0.03)" font-size="29.0" text-anchor="end">0.3</text>
<text transform="translate(880.20 559.55) scale(1.000 1) rotate(0.03)" font-size="29.0" text-anchor="end" letter-spacing="-0.15">0.25</text>
<text transform="translate(878.45 590.20) scale(1.000 1) rotate(0.03)" font-size="29.0">1</text>
<text transform="translate(893.95 590.20) scale(1.000 1) rotate(0.03)" font-size="29.0">0</text>
<text transform="translate(909.25 578.60) scale(1.150 1) rotate(0.03)" font-size="20.5" stroke="#000" stroke-width="0.35">−</text>
<text transform="translate(921.95 577.70) scale(1.000 1) rotate(0.03)" font-size="20.5">5</text>
<text transform="translate(995.29 590.20) scale(1.000 1) rotate(0.03)" font-size="29.0">1</text>
<text transform="translate(1010.79 590.20) scale(1.000 1) rotate(0.03)" font-size="29.0">0</text>
<text transform="translate(1026.09 578.60) scale(1.150 1) rotate(0.03)" font-size="20.5" stroke="#000" stroke-width="0.35">−</text>
<text transform="translate(1038.79 577.70) scale(1.000 1) rotate(0.03)" font-size="20.5">4</text>
<text transform="translate(1112.13 590.20) scale(1.000 1) rotate(0.03)" font-size="29.0">1</text>
<text transform="translate(1127.63 590.20) scale(1.000 1) rotate(0.03)" font-size="29.0">0</text>
<text transform="translate(1142.93 578.60) scale(1.150 1) rotate(0.03)" font-size="20.5" stroke="#000" stroke-width="0.35">−</text>
<text transform="translate(1155.63 577.70) scale(1.000 1) rotate(0.03)" font-size="20.5">3</text>
<text transform="translate(1228.97 590.20) scale(1.000 1) rotate(0.03)" font-size="29.0">1</text>
<text transform="translate(1244.47 590.20) scale(1.000 1) rotate(0.03)" font-size="29.0">0</text>
<text transform="translate(1259.77 578.60) scale(1.150 1) rotate(0.03)" font-size="20.5" stroke="#000" stroke-width="0.35">−</text>
<text transform="translate(1272.47 577.70) scale(1.000 1) rotate(0.03)" font-size="20.5">2</text>
<text transform="translate(1345.81 590.20) scale(1.000 1) rotate(0.03)" font-size="29.0">1</text>
<text transform="translate(1361.31 590.20) scale(1.000 1) rotate(0.03)" font-size="29.0">0</text>
<text transform="translate(1376.61 578.60) scale(1.150 1) rotate(0.03)" font-size="20.5" stroke="#000" stroke-width="0.35">−</text>
<text transform="translate(1389.31 577.70) scale(1.000 1) rotate(0.03)" font-size="20.5">1</text>
<text transform="translate(1469.15 590.20) scale(1.000 1) rotate(0.03)" font-size="29.0">1</text>
<text transform="translate(1484.65 590.20) scale(1.000 1) rotate(0.03)" font-size="29.0">0</text>
<text transform="translate(1501.05 577.70) scale(1.000 1) rotate(0.03)" font-size="20.5">0</text>
<text transform="translate(1164.60 631.40) scale(0.990 1) rotate(0.03)" font-size="29.4" font-style="italic">c</text>
<text transform="translate(1186.40 631.10) scale(0.990 1) rotate(0.03)" font-size="29.4">(</text>
<text transform="translate(1195.90 631.10) scale(0.975 1) rotate(0.03)" font-size="29.8">M</text>
<text transform="translate(1220.10 631.10) scale(0.990 1) rotate(0.03)" font-size="29.4">)</text>
<g transform="translate(797.4 327.1) rotate(-90)">
<text transform="translate(0.00 0.00) scale(0.920 1) rotate(0.03)" font-size="31.4" font-style="italic">V</text>
<text transform="translate(16.40 7.70) scale(0.930 1) rotate(0.03)" font-size="22.0">M</text>
<text transform="translate(42.70 0.00) scale(0.990 1) rotate(0.03)" font-size="29.4">(</text>
<text transform="translate(52.40 0.00) scale(0.930 1) rotate(0.03)" font-size="31.4">V</text>
<text transform="translate(71.80 0.00) scale(0.990 1) rotate(0.03)" font-size="29.4">)</text>
</g>
<text transform="translate(771.4 30.7) rotate(0.03)" font-size="41.5" font-weight="bold" stroke="none">b</text>
</g>
</svg></body></html>
